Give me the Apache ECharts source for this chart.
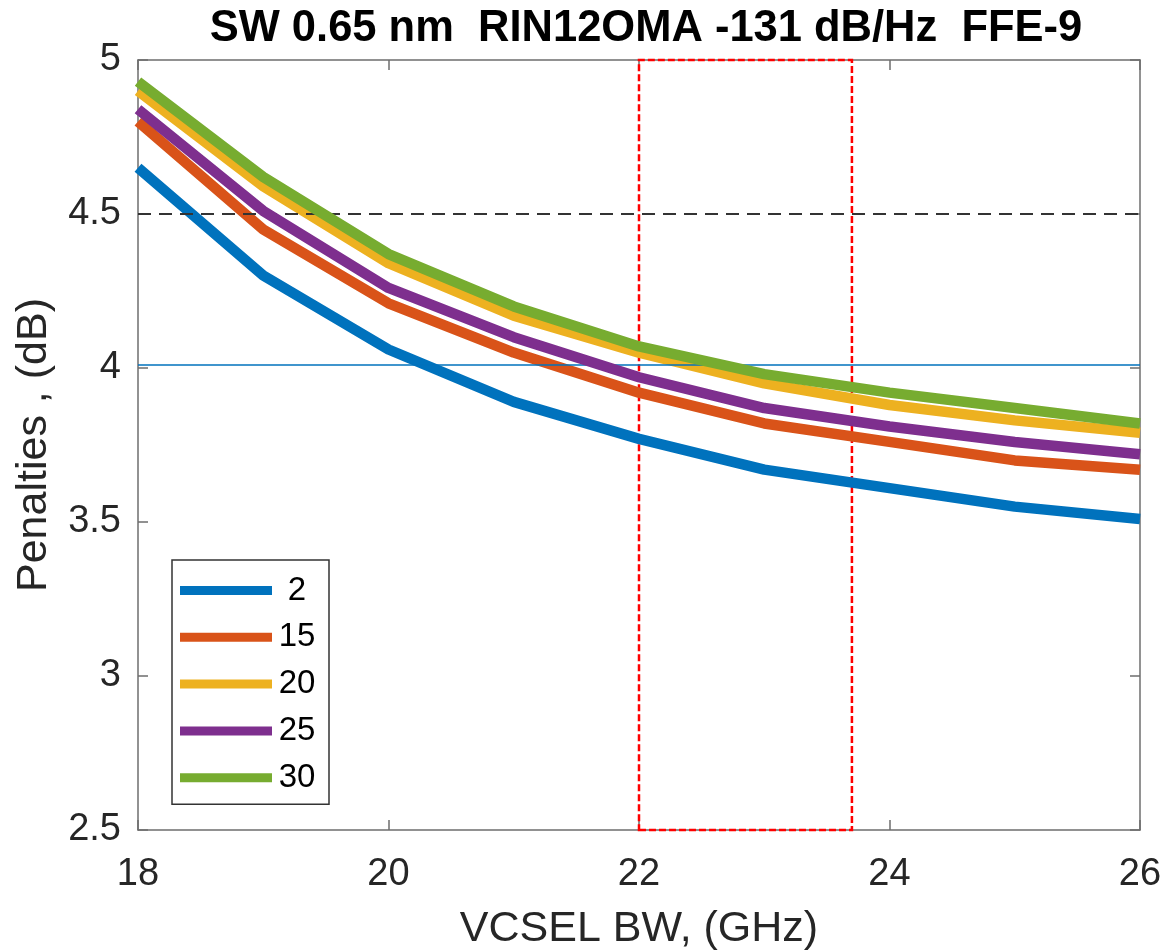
<!DOCTYPE html>
<html>
<head>
<meta charset="utf-8">
<title>Penalties vs VCSEL BW</title>
<script src="https://cdn.jsdelivr.net/npm/echarts@6/dist/echarts.min.js"></script>
<style>
  html, body { margin: 0; padding: 0; background: #fff; }
  #chart { width: 1165px; height: 951px; }
</style>
</head>
<body>
<div id="chart"></div>
<script>
// VCSEL bandwidth (GHz)
const bandwidth = [18, 19, 20, 21, 22, 23, 24, 25, 26];

// Penalties (dB), one curve per legend value
const seriesNames = ['2', '15', '20', '25', '30'];
const pen2  = [4.65, 4.30, 4.06, 3.89, 3.77, 3.67, 3.61, 3.55, 3.51];
const pen15 = [4.80, 4.45, 4.21, 4.05, 3.92, 3.82, 3.76, 3.70, 3.67];
const pen20 = [4.90, 4.59, 4.34, 4.17, 4.05, 3.95, 3.88, 3.83, 3.79];
const pen25 = [4.84, 4.51, 4.26, 4.10, 3.97, 3.87, 3.81, 3.76, 3.72];
const pen30 = [4.93, 4.62, 4.37, 4.20, 4.07, 3.98, 3.92, 3.87, 3.82];
const penalties = [pen2, pen15, pen20, pen25, pen30];

// Reference levels and highlighted bandwidth window
const limitLevel = 4.5;
const targetLevel = 4.01;
const windowBW = [22, 23.7];

const colors = ['#0072BD', '#D95319', '#EDB120', '#7E2F8E', '#77AC30'];
const FONT = '"Liberation Sans", Arial, Helvetica, sans-serif';
const AXIS_COLOR = '#6e6e6e';
const TEXT_COLOR = '#262626';

const chart = echarts.init(document.getElementById('chart'), null, { renderer: 'canvas' });

const curveSeries = seriesNames.map((name, i) => ({
  name: name,
  type: 'line',
  data: bandwidth.map((x, j) => [x, penalties[i][j]]),
  showSymbol: false,
  symbol: 'none',
  color: colors[i],
  lineStyle: { width: 10.5, color: colors[i], join: 'round', cap: 'butt' },
  itemStyle: { color: colors[i] },
  emphasis: { disabled: true },
  z: 2 + i,
  animation: false
}));

const overlaySeries = {
  name: 'overlay',
  type: 'line',
  data: [],
  z: 20,
  animation: false,
  markLine: {
    silent: true,
    symbol: 'none',
    label: { show: false },
    data: [
      { yAxis: limitLevel, lineStyle: { color: '#333333', width: 2, type: [13, 8] } },
      { yAxis: targetLevel, lineStyle: { color: '#0072BD', width: 1.5, type: 'solid' } }
    ]
  },
  markArea: {
    silent: true,
    itemStyle: {
      color: 'rgba(0,0,0,0)',
      borderColor: '#ff0000',
      borderWidth: 2.5,
      borderType: [7, 3]
    },
    data: [[{ xAxis: windowBW[0], yAxis: 2.5 }, { xAxis: windowBW[1], yAxis: 5 }]]
  }
};

const baseAxisLine = { show: true, lineStyle: { color: AXIS_COLOR, width: 1.5 } };
const baseTick = { show: true, inside: true, length: 10, lineStyle: { color: AXIS_COLOR, width: 1.5 } };

const option = {
  backgroundColor: '#ffffff',
  animation: false,
  title: {
    text: 'SW 0.65 nm  RIN12OMA -131 dB/Hz  FFE-9',
    left: 641,
    top: 2,
    textAlign: 'center',
    textStyle: { fontFamily: FONT, fontSize: 43.5, fontWeight: 'bold', color: '#000000' }
  },
  grid: { left: 138, right: 25, top: 60, bottom: 121, containLabel: false, outerBoundsMode: 'none' },
  legend: {
    data: seriesNames,
    orient: 'vertical',
    left: 172,
    top: 560,
    icon: 'rect',
    itemWidth: 92,
    itemHeight: 9,
    itemGap: 13.8,
    padding: [14, 12, 10, 8],
    backgroundColor: '#ffffff',
    borderColor: '#333333',
    borderWidth: 1.5,
    borderRadius: 0,
    selectedMode: false,
    formatter: name => '{c|' + name + '}',
    textStyle: {
      fontFamily: FONT,
      fontSize: 33,
      color: '#000000',
      rich: { c: { width: 40, align: 'center', fontSize: 33, fontFamily: FONT, lineHeight: 33, color: '#000000' } }
    }
  },
  xAxis: [
    {
      type: 'value',
      min: 18, max: 26, interval: 2,
      name: 'VCSEL BW, (GHz)',
      nameLocation: 'middle',
      nameGap: 78,
      nameTextStyle: { fontFamily: FONT, fontSize: 43, color: TEXT_COLOR },
      axisLine: baseAxisLine,
      axisTick: baseTick,
      axisLabel: { fontFamily: FONT, fontSize: 38, color: TEXT_COLOR, margin: 26 },
      splitLine: { show: false }
    },
    {
      type: 'value',
      position: 'top',
      min: 18, max: 26, interval: 2,
      axisLine: baseAxisLine,
      axisTick: baseTick,
      axisLabel: { show: false },
      splitLine: { show: false }
    }
  ],
  yAxis: [
    {
      type: 'value',
      min: 2.5, max: 5, interval: 0.5,
      name: 'Penalties , (dB)',
      nameLocation: 'middle',
      nameGap: 82,
      nameTextStyle: { fontFamily: FONT, fontSize: 43, color: TEXT_COLOR },
      axisLine: baseAxisLine,
      axisTick: baseTick,
      axisLabel: { fontFamily: FONT, fontSize: 38, color: TEXT_COLOR, margin: 17 },
      splitLine: { show: false }
    },
    {
      type: 'value',
      position: 'right',
      min: 2.5, max: 5, interval: 0.5,
      axisLine: baseAxisLine,
      axisTick: baseTick,
      axisLabel: { show: false },
      splitLine: { show: false }
    }
  ],
  series: curveSeries.concat([overlaySeries])
};

chart.setOption(option);
</script>
</body>
</html>
